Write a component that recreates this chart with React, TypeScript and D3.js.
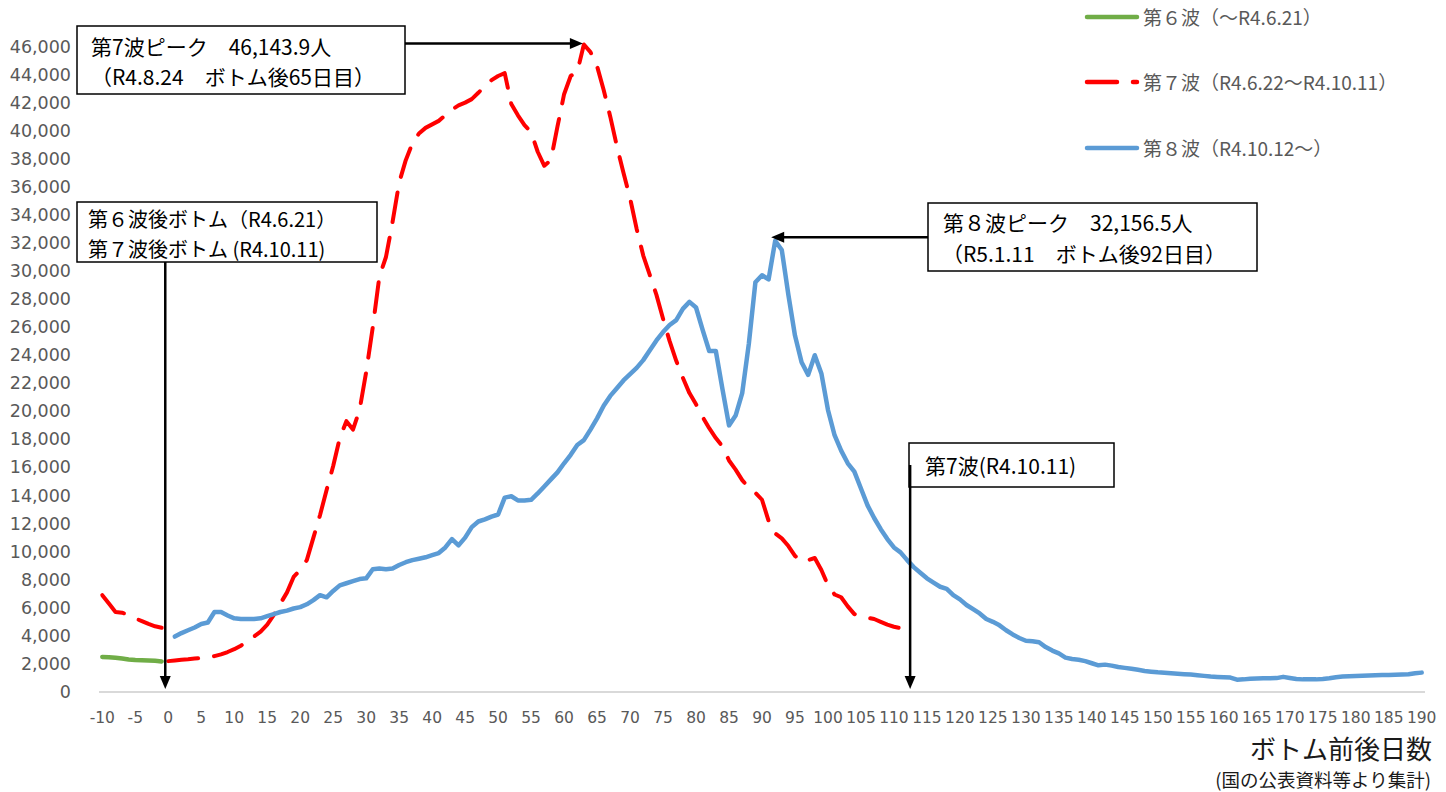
import React from 'react';
import * as d3 from 'd3';

// ---------- data ----------
const xCategories = d3.range(-10, 191);
const xTickLabels = d3.range(-10, 191, 5);
const yTicks = d3.range(0, 46001, 2000);

const greenStart = -10;
const greenValues = [2500, 2480, 2440, 2380, 2320, 2280, 2260, 2240, 2220, 2180];

const redPreStart = -10;
const redPreValues = [6900, 6300, 5700, 5650, 5500, 5250, 5050, 4850, 4680, 4580];

const redStart = 0;
const redValues = [
  2200, 2250, 2300, 2330, 2380, 2420, 2480, 2560, 2680, 2850,
  3050, 3300, 3600, 3950, 4300, 4800, 5500, 6300, 7100, 8200,
  8700, 9400, 11000, 12600, 14400, 16100, 18100, 19300, 18700, 20100,
  22800, 26000, 29600, 31000, 33500, 36300, 37900, 39100, 39800, 40200,
  40450, 40700, 41100, 41500, 41800, 42000, 42250, 42700, 43200, 43600,
  43900, 44100, 41900, 41100, 40400, 39900, 38500, 37500, 37900, 40300,
  42600, 43900, 44200, 46143.9, 45600, 44600, 42900, 41000, 38900, 37000,
  35200, 33000, 31100, 29700, 28300, 26600, 25000, 23600, 22400, 21300,
  20500, 19600, 18800, 18100, 17500, 16500, 15850, 15100, 14550, 14200,
  13700, 12200, 11300, 10950, 10400, 9700, 9300, 9400, 9550, 8700,
  7600, 6950, 6750, 6100, 5550, 5400, 5300, 5200, 5000, 4800,
  4650, 4550,
];

const blueStart = 1;
const blueValues = [
  3950, 4200, 4400, 4600, 4850, 4950, 5700, 5700, 5450, 5250,
  5200, 5200, 5200, 5250, 5400, 5550, 5700, 5800, 5950, 6050,
  6250, 6550, 6900, 6750, 7200, 7600, 7750, 7900, 8050, 8100,
  8750, 8800, 8750, 8800, 9050, 9250, 9400, 9500, 9600, 9750,
  9900, 10300, 10900, 10450, 11000, 11750, 12150, 12300, 12500, 12650,
  13850, 13950, 13650, 13650, 13700, 14150, 14650, 15150, 15650, 16300,
  16900, 17600, 17950, 18700, 19500, 20400, 21100, 21650, 22200, 22650,
  23100, 23650, 24350, 25050, 25650, 26150, 26500, 27300, 27800, 27400,
  25800, 24300, 24300, 21600, 19000, 19700, 21300, 24800, 29200, 29700,
  29400, 32156.5, 31500, 28300, 25400, 23500, 22600, 24000, 22700, 20100,
  18300, 17200, 16300, 15700, 14500, 13300, 12400, 11600, 10900, 10300,
  9950, 9400, 8900, 8500, 8100, 7800, 7500, 7350, 6900, 6600,
  6200, 5900, 5600, 5200, 5000, 4750, 4400, 4100, 3850, 3650,
  3620, 3550, 3200, 2950, 2750, 2450, 2350, 2300, 2200, 2050,
  1900, 1950, 1880, 1780, 1720, 1650, 1580, 1500, 1450, 1400,
  1370, 1330, 1300, 1270, 1240, 1200, 1150, 1100, 1070, 1050,
  1030, 880, 900, 950, 970, 980, 980, 990, 1080, 1000,
  930, 900, 900, 900, 930, 980, 1050, 1100, 1130, 1140,
  1160, 1180, 1200, 1210, 1220, 1230, 1250, 1260, 1330, 1380,
];

const legendItems = [
  { label: '第６波（～R4.6.21）', color: '#70ad47', dashed: false },
  { label: '第７波（R4.6.22～R4.10.11）', color: '#ff0000', dashed: true },
  { label: '第８波（R4.10.12～）', color: '#5b9bd5', dashed: false },
];

const xTitle = 'ボトム前後日数';
const sourceText = '(国の公表資料等より集計)';

// ---------- layout ----------
const W = 1446;
const H = 792;
const PLOT_L = 99;
const PLOT_R = 1425;
const PLOT_B = 692;
const PLOT_T = 46.5;
const NUM_FONT = '"DejaVu Sans", Verdana, sans-serif';
const JP_FONT = '"Noto Sans CJK JP", "Noto Sans", sans-serif';
const RED_DASH = '30 16';

function toPoints(start: number, vals: number[]): [number, number][] {
  return vals.map((v, i) => [start + i, v]);
}

function arrowHead(tx: number, ty: number, dir: 'left' | 'right' | 'down'): string {
  const L = 13;
  const h = 5.5;
  if (dir === 'right') return `${tx},${ty} ${tx - L},${ty - h} ${tx - L},${ty + h}`;
  if (dir === 'left') return `${tx},${ty} ${tx + L},${ty - h} ${tx + L},${ty + h}`;
  return `${tx},${ty} ${tx - h},${ty - L} ${tx + h},${ty - L}`;
}

export default function App() {
  const x = d3.scalePoint<number>().domain(xCategories).range([PLOT_L, PLOT_R]).padding(0.5);
  const y = d3.scaleLinear().domain([0, 46000]).range([PLOT_B, PLOT_T]);
  const line = d3
    .line<[number, number]>()
    .x((d) => x(d[0]) as number)
    .y((d) => y(d[1]));

  const greenPath = line(toPoints(greenStart, greenValues)) || '';
  const redPrePath = line(toPoints(redPreStart, redPreValues)) || '';
  const redPath = line(toPoints(redStart, redValues)) || '';
  const bluePath = line(toPoints(blueStart, blueValues)) || '';

  // annotation anchors derived from data
  const redPeakIdx = redValues.indexOf(d3.max(redValues) as number);
  const bluePeakIdx = blueValues.indexOf(d3.max(blueValues) as number);
  const redPeakX = (x(redStart + redPeakIdx) as number) - 1;
  const redPeakY = y(redValues[redPeakIdx]) - 1;
  const bluePeakX = (x(blueStart + bluePeakIdx) as number) - 4;
  const bluePeakY = y(blueValues[bluePeakIdx]) - 3.5;
  const bottomX = (x(0) as number) - 3;
  const endX = (x(redStart + redValues.length) as number) + 3;
  const tipY = PLOT_B - 3;

  const annStyle: React.CSSProperties = { fontFamily: JP_FONT, fontSize: 21, fill: '#000' };
  const annStyleSm: React.CSSProperties = { fontFamily: JP_FONT, fontSize: 20, fill: '#000' };

  return (
    <div style={{ position: 'absolute', left: 0, top: 0 }}>
      <svg width={W} height={H} viewBox={`0 0 ${W} ${H}`} style={{ display: 'block', background: '#fff' }}>
        {/* y tick labels */}
        {yTicks.map((t) => (
          <text
            key={t}
            x={71}
            y={y(t)}
            textAnchor="end"
            dominantBaseline="central"
            style={{ fontFamily: NUM_FONT, fontSize: 17.5, fill: '#595959' }}
          >
            {d3.format(',')(t)}
          </text>
        ))}

        {/* x axis line */}
        <line x1={PLOT_L} x2={PLOT_R} y1={PLOT_B} y2={PLOT_B} stroke="#d9d9d9" strokeWidth={2} />

        {/* x tick labels */}
        {xTickLabels.map((t) => (
          <text
            key={t}
            x={x(t) as number}
            y={718}
            textAnchor="middle"
            dominantBaseline="central"
            style={{ fontFamily: NUM_FONT, fontSize: 15.5, fill: '#595959' }}
          >
            {t}
          </text>
        ))}

        {/* series */}
        <path d={greenPath} fill="none" stroke="#70ad47" strokeWidth={4.5} strokeLinejoin="round" strokeLinecap="round" />
        <path d={redPrePath} fill="none" stroke="#ff0000" strokeWidth={4} strokeLinejoin="round" strokeLinecap="round" strokeDasharray={RED_DASH} />
        <path d={redPath} fill="none" stroke="#ff0000" strokeWidth={4} strokeLinejoin="round" strokeLinecap="round" strokeDasharray={RED_DASH} />
        <path d={bluePath} fill="none" stroke="#5b9bd5" strokeWidth={4.5} strokeLinejoin="round" strokeLinecap="round" />

        {/* legend */}
        {legendItems.map((item, i) => {
          const ly = [17, 82, 148][i];
          return (
            <g key={item.label}>
              <line
                x1={1087}
                x2={1137}
                y1={ly}
                y2={ly}
                stroke={item.color}
                strokeWidth={4.5}
                strokeLinecap="round"
                strokeDasharray={item.dashed ? RED_DASH : undefined}
              />
              <text
                x={1143}
                y={ly - 1}
                dominantBaseline="central"
                style={{ fontFamily: JP_FONT, fontSize: 19, fill: '#595959' }}
              >
                {item.label}
              </text>
            </g>
          );
        })}

        {/* annotation 1: 7th wave peak */}
        <rect x={77} y={26} width={328} height={68} fill="#fff" stroke="#000" strokeWidth={1.5} />
        <text x={91} y={45.5} dominantBaseline="central" style={annStyle}>第7波ピーク　46,143.9人</text>
        <text x={91} y={76} dominantBaseline="central" style={annStyle}>（R4.8.24　ボトム後65日目）</text>
        <line x1={405} x2={redPeakX - 12} y1={redPeakY} y2={redPeakY} stroke="#000" strokeWidth={2.5} />
        <polygon points={arrowHead(redPeakX, redPeakY, 'right')} fill="#000" />

        {/* annotation 2: bottoms */}
        <rect x={77} y={202} width={300} height={60} fill="#fff" stroke="#000" strokeWidth={1.5} />
        <text x={88} y={218.5} dominantBaseline="central" style={annStyleSm}>第６波後ボトム（R4.6.21）</text>
        <text x={88} y={248} dominantBaseline="central" style={annStyleSm}>第７波後ボトム (R4.10.11)</text>
        <line x1={bottomX} x2={bottomX} y1={262} y2={tipY - 12} stroke="#000" strokeWidth={2.5} />
        <polygon points={arrowHead(bottomX, tipY, 'down')} fill="#000" />

        {/* annotation 3: 8th wave peak */}
        <rect x={928} y={203} width={329} height={68} fill="#fff" stroke="#000" strokeWidth={1.5} />
        <text x={943} y={221.5} dominantBaseline="central" style={annStyle}>第８波ピーク　32,156.5人</text>
        <text x={942} y={252.5} dominantBaseline="central" style={annStyle}>（R5.1.11　ボトム後92日目）</text>
        <line x1={928} x2={bluePeakX + 12} y1={bluePeakY} y2={bluePeakY} stroke="#000" strokeWidth={2.5} />
        <polygon points={arrowHead(bluePeakX, bluePeakY, 'left')} fill="#000" />

        {/* annotation 4: 7th wave end */}
        <rect x={909} y={443} width={205} height={44} fill="#fff" stroke="#000" strokeWidth={1.5} />
        <text x={925} y={465} dominantBaseline="central" style={annStyle}>第7波(R4.10.11)</text>
        <line x1={endX} x2={endX} y1={465} y2={tipY - 12} stroke="#000" strokeWidth={2.5} />
        <polygon points={arrowHead(endX, tipY, 'down')} fill="#000" />

        {/* axis title and source */}
        <text x={1432} y={747} textAnchor="end" dominantBaseline="central" style={{ fontFamily: JP_FONT, fontSize: 26, fill: '#1a1a1a' }}>
          {xTitle}
        </text>
        <text x={1431} y={779} textAnchor="end" dominantBaseline="central" style={{ fontFamily: JP_FONT, fontSize: 18.5, fill: '#1a1a1a' }}>
          {sourceText}
        </text>
      </svg>
    </div>
  );
}
